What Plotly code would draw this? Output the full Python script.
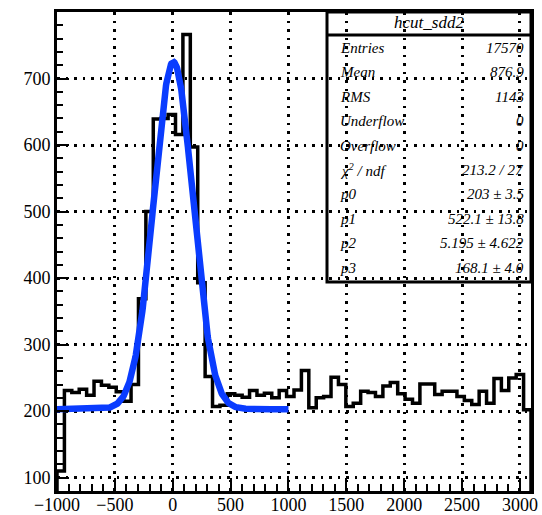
import numpy as np
import plotly.graph_objects as go

# ---------------- data ----------------
x_min, bin_width, n_bins = -1000, 64, 64
bin_edges = [x_min + bin_width * k for k in range(n_bins + 1)]
counts = [110, 231, 228, 233, 224, 245, 239, 236, 229, 215,
          240, 369, 500, 639, 640, 646, 616, 766, 597, 393,
          252, 207, 209, 226, 224, 221, 231, 224, 227, 220,
          231, 222, 232, 261, 205, 220, 222, 251, 240, 207,
          212, 230, 228, 222, 238, 243, 226, 218, 212, 241,
          241, 225, 230, 230, 222, 216, 210, 230, 212, 249,
          231, 250, 255, 202]

# fit: p0 + p1*exp(-0.5*((x-p2)/p3)^2) over [-1000, 1000]
fit_params = [203.0, 522.1, 5.195, 168.1]
fit_range = [-1000, 1000]

x_ticks = [-1000, -500, 0, 500, 1000, 1500, 2000, 2500, 3000]
y_ticks = [100, 200, 300, 400, 500, 600, 700]

stats_title = "hcut_sdd2"
stats_labels = ["Entries", "Mean", "RMS", "Underflow", "Overflow",
                "χ<sup>2</sup> / ndf", "p0", "p1", "p2", "p3"]
stats_values = ["17570", "876.9", "1143", "0", "0", "213.2 / 27",
                "203 ± 3.5", "522.1 ± 13.8", "5.195 ± 4.622", "168.1 ± 4.0"]

x_range = [bin_edges[0], bin_edges[-1]]
y_range = [80, 800]

# ---------------- figure ----------------
W, H = 542, 515
ml, mr, mt, mb = 57, 11, 12, 24
plot_w, plot_h = W - ml - mr, H - mt - mb

hist_x = [bin_edges[0]] + bin_edges + [bin_edges[-1]]
hist_y = [y_range[0]] + counts + [counts[-1], y_range[0]]

fx = np.linspace(fit_range[0], fit_range[1], 600)
p0, p1, p2, p3 = fit_params
fy = p0 + p1 * np.exp(-0.5 * ((fx - p2) / p3) ** 2)

fig = go.Figure()
fig.add_trace(go.Scatter(x=hist_x, y=hist_y, mode="lines",
                         line=dict(color="black", width=3.5, shape="hv"),
                         hoverinfo="skip", showlegend=False))
fig.add_trace(go.Scatter(x=fx, y=fy, mode="lines",
                         line=dict(color="#0a3cff", width=6.5),
                         hoverinfo="skip", showlegend=False))

axis_common = dict(
    showline=True, linewidth=3, linecolor="black", mirror=True,
    ticks="inside", tickcolor="black", tickwidth=2,
    showgrid=True, gridcolor="black", gridwidth=2.5, griddash="2.5px,6px",
    zeroline=False, automargin=False,
    tickfont=dict(family="Liberation Serif", size=18, color="black"),
)

fig.update_xaxes(range=x_range, tickvals=x_ticks, ticklen=13,
                 ticklabelstandoff=-5,
                 minor=dict(ticks="inside", dtick=100, tick0=0, ticklen=7,
                            tickwidth=2, tickcolor="black", showgrid=False),
                 **axis_common)
fig.update_yaxes(range=y_range, tickvals=y_ticks, ticklen=12,
                 minor=dict(ticks="inside", dtick=20, tick0=0, ticklen=6,
                            tickwidth=2, tickcolor="black", showgrid=False),
                 **axis_common)


def px_to_paper_x(px):
    return (px - ml) / plot_w


def px_to_paper_y(py):
    return (H - mb - py) / plot_h


box_left = px_to_paper_x(327)
box_bottom = px_to_paper_y(282)
sep_y = px_to_paper_y(35)

fig.add_shape(type="rect", xref="paper", yref="paper",
              x0=box_left, x1=1, y0=box_bottom, y1=1,
              line=dict(color="black", width=3), fillcolor="rgba(0,0,0,0)")
fig.add_shape(type="line", xref="paper", yref="paper",
              x0=box_left, x1=1, y0=sep_y, y1=sep_y,
              line=dict(color="black", width=3))

stat_font = dict(family="Liberation Serif", size=15, color="black")
fig.add_annotation(xref="paper", yref="paper",
                   x=(box_left + 1) / 2, y=px_to_paper_y(22),
                   text="<i>" + stats_title + "</i>", showarrow=False,
                   xanchor="center", yanchor="middle",
                   font=dict(family="Liberation Serif", size=17, color="black"))

row0, row_step = 48, 24.4
for i, (lab, val) in enumerate(zip(stats_labels, stats_values)):
    yy = px_to_paper_y(row0 + i * row_step)
    fig.add_annotation(xref="paper", yref="paper", x=px_to_paper_x(338), y=yy,
                       text="<i>" + lab + "</i>", showarrow=False,
                       xanchor="left", yanchor="middle", font=stat_font)
    fig.add_annotation(xref="paper", yref="paper", x=px_to_paper_x(526), y=yy,
                       text="<i>" + val + "</i>", showarrow=False,
                       xanchor="right", yanchor="middle", font=stat_font)

fig.update_layout(width=W, height=H,
                  margin=dict(l=ml, r=mr, t=mt, b=mb, autoexpand=False),
                  paper_bgcolor="white", plot_bgcolor="white",
                  showlegend=False)

fig.write_html("out.html",
               config={"displayModeBar": False},
               post_script="document.body.style.margin='0';"
                           "document.body.style.overflow='hidden';")
